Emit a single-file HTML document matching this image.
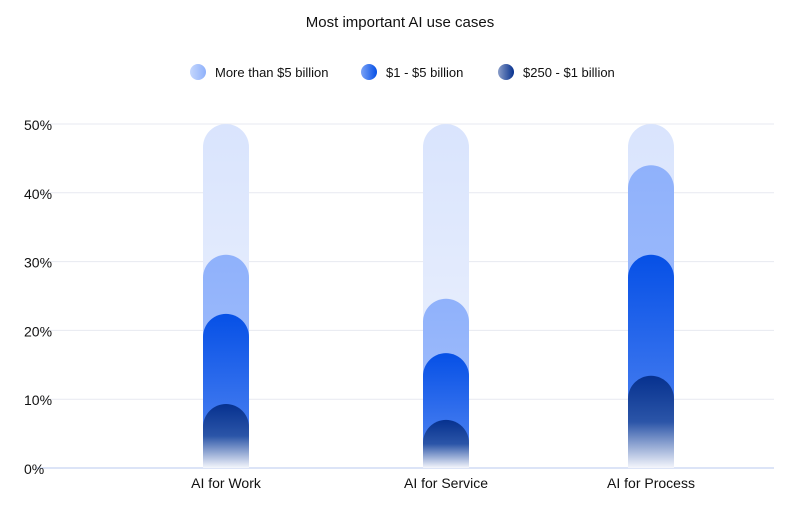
<!DOCTYPE html>
<html><head><meta charset="utf-8"><style>
body{margin:0;background:#fff;font-family:"Liberation Sans",sans-serif;}
</style></head><body>
<svg id="chart" width="800" height="500" xmlns="http://www.w3.org/2000/svg">
<defs>
<linearGradient id="gBg" x1="0" y1="0" x2="0" y2="1"><stop offset="0" stop-color="#d9e4fd"/><stop offset="0.6" stop-color="#e6edfd"/><stop offset="1" stop-color="#fbfcff"/></linearGradient>
<linearGradient id="gL" x1="0" y1="0" x2="0" y2="1"><stop offset="0" stop-color="#8fb1fb"/><stop offset="1" stop-color="#aac4fc"/></linearGradient>
<linearGradient id="gM" x1="0" y1="0" x2="0" y2="1"><stop offset="0" stop-color="#0650e6"/><stop offset="1" stop-color="#5b8cf3"/></linearGradient>
<linearGradient id="gD" x1="0" y1="0" x2="0" y2="1"><stop offset="0" stop-color="#06318f"/><stop offset="0.5" stop-color="#2b55a8"/><stop offset="1" stop-color="#f4f6fc"/></linearGradient>
<linearGradient id="lL" x1="0" y1="0" x2="1" y2="0"><stop offset="0" stop-color="#c5d7fd"/><stop offset="1" stop-color="#8fb1fb"/></linearGradient>
<linearGradient id="lM" x1="0" y1="0" x2="1" y2="0"><stop offset="0" stop-color="#7aa2f6"/><stop offset="1" stop-color="#0650e6"/></linearGradient>
<linearGradient id="lD" x1="0" y1="0" x2="1" y2="0"><stop offset="0" stop-color="#8a9dc8"/><stop offset="1" stop-color="#06318f"/></linearGradient>
</defs>
<text x="400" y="27" text-anchor="middle" font-size="15" fill="#111">Most important AI use cases</text>
<g id="legend"></g>
<g id="grid"></g>
<g id="bars"></g>
<g id="labels"></g>
</svg>
<script>
const categories=["AI for Work","AI for Service","AI for Process"];
const seriesNames=["More than $5 billion","$1 - $5 billion","$250 - $1 billion"];
const seriesLight=[31,24.6,44];
const seriesMid=[22.4,16.7,31];
const seriesDark=[9.3,7,13.4];
const bgMax=50;
const ticks=[0,10,20,30,40,50];
const tickLabels=["0%","10%","20%","30%","40%","50%"];
const NS="http://www.w3.org/2000/svg";
const y0=468,yTop=124,xs=[226,446,651],bw=46;
function y(v){return y0-(v/50)*(y0-yTop);}
function mk(t,a,p){const e=document.createElementNS(NS,t);for(const k in a)e.setAttribute(k,a[k]);p.appendChild(e);return e;}
const grid=document.getElementById('grid');
ticks.forEach((t,i)=>{
 const l=mk('line',{x1:36,x2:774,y1:y(t),y2:y(t),stroke:i==0?'#b9c9ef':'#e7e9f1','stroke-width':1},grid);
 
 
 const tx=mk('text',{x:24,y:y(t)+6,'font-size':14,fill:'#111'},grid);
 tx.textContent=tickLabels[i];
 
 
});
function bar(cx,v,fill,p){
 const top=y(v),r=bw/2,x=cx-r;
 const d=`M${x},${y0} L${x},${top+r} A${r},${r} 0 0 1 ${x+bw},${top+r} L${x+bw},${y0} Z`;
 return mk('path',{d:d,fill:fill},p);
}
const bars=document.getElementById('bars');
categories.forEach((c,i)=>{
 const g=mk('g',{},bars);
 
 
 const b0=mk('rect',{x:xs[i]-bw/2,y:y(bgMax),width:bw,height:y0-y(bgMax),rx:0,fill:'url(#gBg)'},g);
 b0.setAttribute('d','');
 const bg=bar(xs[i],bgMax,'url(#gBg)',g);b0.remove();
 
 
 const a=bar(xs[i],seriesLight[i],'url(#gL)',g);
 
 
 const b=bar(xs[i],seriesMid[i],'url(#gM)',g);
 
 
 const d=bar(xs[i],seriesDark[i],'url(#gD)',g);
 
 
 const t=mk('text',{x:xs[i],y:488,'text-anchor':'middle','font-size':14,fill:'#111'},document.getElementById('labels'));
 t.textContent=c;
 
 
});
const leg=document.getElementById('legend');
const lx=[198,369,506],lf=['url(#lL)','url(#lM)','url(#lD)'];
seriesNames.forEach((n,i)=>{
 const g=mk('g',{},leg);
 
 
 mk('circle',{cx:lx[i],cy:72,r:8,fill:lf[i]},g);
 const t=mk('text',{x:lx[i]+17,y:77,'font-size':13,fill:'#111'},g);
 t.textContent=n;
});
</script>
</body></html>
